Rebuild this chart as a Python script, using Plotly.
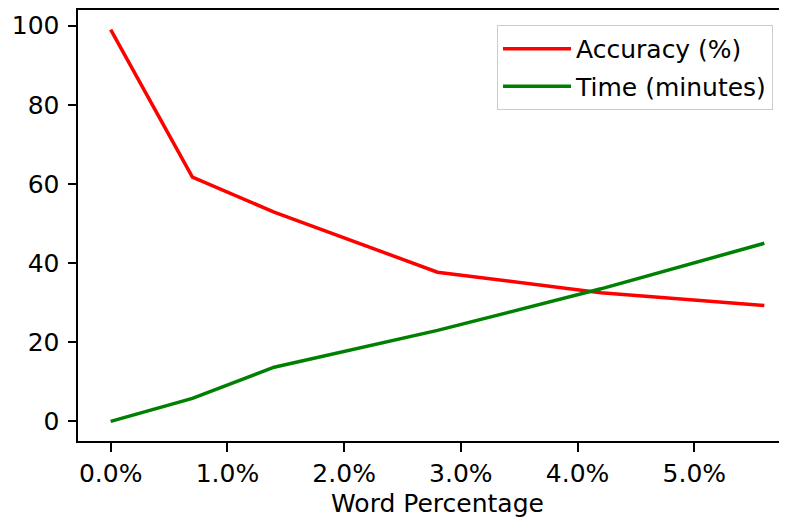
import plotly.graph_objects as go

word_pct = [0.0, 0.007, 0.014, 0.028, 0.042, 0.056]
accuracy = [99.0, 61.7, 52.9, 37.7, 32.5, 29.3]
time_min = [0.0, 5.8, 13.7, 23.0, 33.5, 45.0]

FONT = dict(family="DejaVu Sans", size=25, color="#000000")

fig = go.Figure()
fig.add_trace(go.Scatter(x=word_pct, y=accuracy, mode="lines", name="Accuracy (%)",
                         legendgroup="a",
                         line=dict(color="#ff0000", width=3.5)))
fig.add_trace(go.Scatter(x=word_pct, y=time_min, mode="lines", name="Time (minutes)",
                         legendgroup="b",
                         line=dict(color="#008000", width=3.5)))

axis_common = dict(showline=True, linecolor="black", linewidth=2, mirror=True,
                   ticks="outside", ticklen=8.5, tickwidth=2, tickcolor="black",
                   showgrid=False, zeroline=False, tickfont=FONT)

# page body has an 8px margin, so the figure is sized/offset to compensate
fig.update_layout(
    width=790, height=510,
    margin=dict(l=70, r=1, t=2, b=77),
    paper_bgcolor="white", plot_bgcolor="white",
    font=FONT,
    xaxis=dict(range=[-0.0028, 0.0588], tickmode="linear", tick0=0, dtick=0.01,
               tickformat=".1%", ticklabelstandoff=0,
               title=dict(text="Word Percentage", font=FONT, standoff=16),
               automargin=False, **axis_common),
    yaxis=dict(range=[-4.95, 103.95], tickmode="linear", tick0=0, dtick=20,
               ticklabelstandoff=3,
               automargin=False, **axis_common),
    legend=dict(x=0.5828, y=0.9652, xanchor="left", yanchor="top",
                bgcolor="white", bordercolor="#cccccc", borderwidth=1,
                itemwidth=68, tracegroupgap=2, traceorder="grouped", font=FONT),
    showlegend=True,
)

fig.write_html("out.html")
